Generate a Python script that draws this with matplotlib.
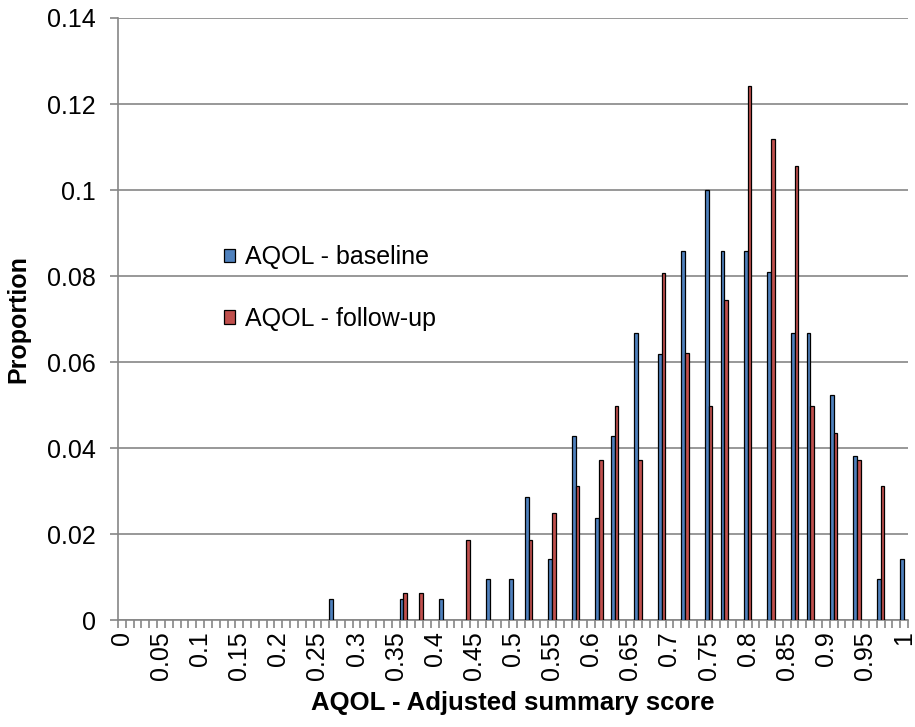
#!/usr/bin/env python3
# -*- coding: utf-8 -*-
"""Histogram of AQOL adjusted summary score, baseline vs follow-up."""

import matplotlib
matplotlib.use("Agg")
import matplotlib.pyplot as plt
from matplotlib.patches import Patch
import numpy as np

# ─── data ─────────────────────────────────────────────────────────────────────

# category axis runs 0.00 .. 1.00 in steps of 0.01
categories = [f"{i / 100:.2f}" for i in range(101)]

base_scores = [0.27, 0.36, 0.41, 0.47, 0.50, 0.52, 0.55, 0.58, 0.61, 0.63,
               0.66, 0.69, 0.72, 0.75, 0.77, 0.80, 0.83, 0.86, 0.88, 0.91,
               0.94, 0.97, 1.00]
base_prop = [0.0048, 0.0048, 0.0048, 0.0095, 0.0095, 0.0286, 0.0143, 0.0429,
             0.0238, 0.0429, 0.0667, 0.0619, 0.0857, 0.1, 0.0857, 0.0857,
             0.0810, 0.0667, 0.0667, 0.0524, 0.0381, 0.0095, 0.0143]

follow_scores = [0.36, 0.38, 0.44, 0.52, 0.55, 0.58, 0.61, 0.63, 0.66, 0.69,
                 0.72, 0.75, 0.77, 0.80, 0.83, 0.86, 0.88, 0.91, 0.94, 0.97]
follow_prop = [0.0062, 0.0062, 0.0186, 0.0186, 0.0248, 0.0311, 0.0373, 0.0497,
               0.0373, 0.0807, 0.0621, 0.0497, 0.0745, 0.1242, 0.1118, 0.1056,
               0.0497, 0.0435, 0.0373, 0.0311]

x_labels = ["0", "0.05", "0.1", "0.15", "0.2", "0.25", "0.3", "0.35", "0.4",
            "0.45", "0.5", "0.55", "0.6", "0.65", "0.7", "0.75", "0.8", "0.85",
            "0.9", "0.95", "1"]
y_ticks = [0, 0.02, 0.04, 0.06, 0.08, 0.1, 0.12, 0.14]
y_labels = ["0", "0.02", "0.04", "0.06", "0.08", "0.1", "0.12", "0.14"]

BLUE = "#4F81BD"
RED = "#C0504D"
GREY = "#868686"


def to_full(scores, props):
    """Spread sparse (score, proportion) pairs over the full category axis."""
    full = np.zeros(len(categories))
    for s, p in zip(scores, props):
        full[int(round(s * 100))] = p
    return full


# ─── plot ─────────────────────────────────────────────────────────────────────

plt.rcParams["font.family"] = ["Liberation Sans", "DejaVu Sans"]
plt.rcParams["font.size"] = 18

fig = plt.figure(figsize=(9.15, 7.27), dpi=100)
ax = fig.add_axes([118 / 915, 1 - 620 / 727, 790 / 915, 602 / 727])

idx = np.arange(len(categories))
bw = 0.47
base = to_full(base_scores, base_prop)
follow = to_full(follow_scores, follow_prop)

mb = base > 0
mf = follow > 0
ax.bar(idx[mb] - bw / 2, base[mb], width=bw, color=BLUE,
       edgecolor="black", linewidth=0.9, zorder=3)
ax.bar(idx[mf] + bw / 2, follow[mf], width=bw, color=RED,
       edgecolor="black", linewidth=0.9, zorder=3)

ax.set_xlim(-0.5, len(categories) - 0.5)
ax.set_ylim(0, 0.14)

# y axis
ax.set_yticks(y_ticks)
ax.set_yticklabels(y_labels)
ax.yaxis.grid(True, color=GREY, linewidth=1.2, zorder=0)
ax.tick_params(axis="y", length=6, width=1.2, color=GREY, pad=10)

# x axis: labels every 5th category, ticks between categories
ax.set_xticks(idx[::5])
ax.set_xticklabels(x_labels, rotation=90)
ax.set_xticks(np.arange(len(categories) + 1) - 0.5, minor=True)
ax.tick_params(axis="x", which="major", length=0, pad=8)
ax.tick_params(axis="x", which="minor", length=6, width=1.2, color=GREY)

for side in ("top", "right"):
    ax.spines[side].set_visible(False)
for side in ("left", "bottom"):
    ax.spines[side].set_color(GREY)
    ax.spines[side].set_linewidth(1.2)

ax.set_ylabel("Proportion", fontweight="bold", labelpad=12)
ax.set_xlabel("AQOL - Adjusted summary score", fontweight="bold",
              fontsize=18.5, labelpad=8)

handles = [Patch(facecolor=BLUE, edgecolor="black", linewidth=0.9),
           Patch(facecolor=RED, edgecolor="black", linewidth=0.9)]
ax.legend(handles, ["AQOL - baseline", "AQOL - follow-up"],
          loc="upper left", bbox_to_anchor=(0.118, 0.643), frameon=False,
          handlelength=0.45, handleheight=0.45, handletextpad=0.4,
          labelspacing=1.5, borderpad=0)

fig.savefig("out.png", dpi=100)
